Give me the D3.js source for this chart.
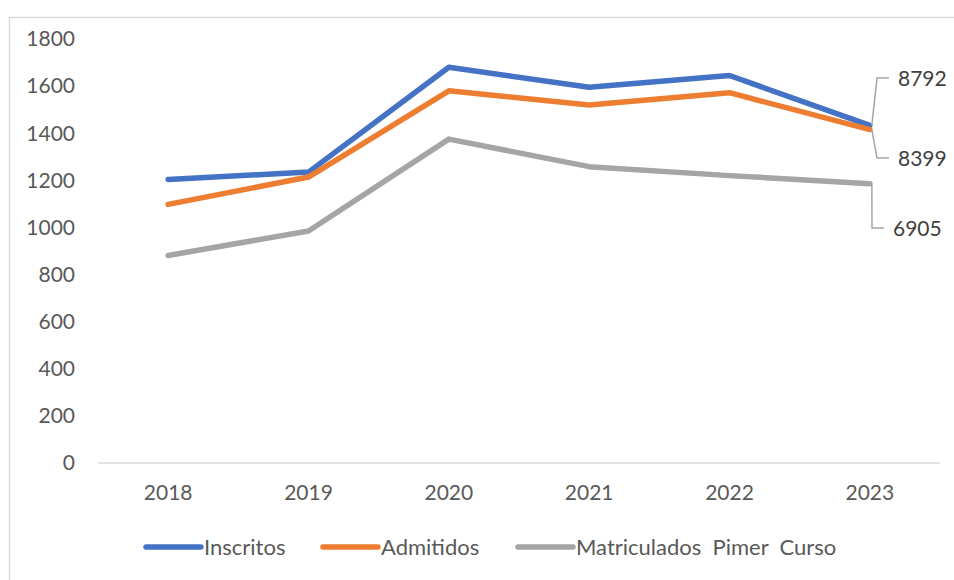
<!DOCTYPE html>
<html>
<head>
<meta charset="utf-8">
<script src="https://d3js.org/d3.v7.min.js"></script>
<style>
  body { margin: 0; background: #fff; }
  text { font-family: Lato, "Open Sans", sans-serif; fill: #595959; }
</style>
</head>
<body>
<svg id="main" width="954" height="580"></svg>
<script>
// data
var years = ["2018", "2019", "2020", "2021", "2022", "2023"];
var inscritos = [1204, 1235, 1680, 1595, 1645, 1433];
var admitidos = [1098, 1214, 1580, 1520, 1572, 1415];
var matriculados = [881, 985, 1375, 1258, 1220, 1186];
var seriesNames = ["Inscritos", "Admitidos", "Matriculados  Pimer  Curso"];
var seriesColors = ["#4472C4", "#ED7D31", "#A5A5A5"];
var yTicks = [0, 200, 400, 600, 800, 1000, 1200, 1400, 1600, 1800];

var series = [inscritos, admitidos, matriculados];

var svg = d3.select("#main");

// chart frame (only left and top edges are visible)
svg.append("path")
  .attr("d", "M9.5,580 V17.5 H954")
  .attr("fill", "none")
  .attr("stroke", "#d9d9d9")
  .attr("stroke-width", 1.5);

var x = d3.scalePoint().domain(years).range([98, 940]).padding(0.5);
var y = d3.scaleLinear().domain([0, 1800]).range([463, 39]);

// y labels
svg.selectAll(".ylab").data(yTicks).enter().append("text")
  .attr("class", "ylab")
  .attr("x", 75)
  .attr("y", function(d) { return y(d); })
  .attr("dy", "0.35em")
  .attr("text-anchor", "end")
  .style("font-size", "21px")
  .text(function(d) { return d; });

// x axis line
svg.append("line")
  .attr("x1", 98).attr("x2", 940)
  .attr("y1", y(0)).attr("y2", y(0))
  .attr("stroke", "#d9d9d9")
  .attr("stroke-width", 1.5);

svg.selectAll(".xlab").data(years).enter().append("text")
  .attr("class", "xlab")
  .attr("x", function(d) { return x(d); })
  .attr("y", 493)
  .attr("dy", "0.35em")
  .attr("text-anchor", "middle")
  .style("font-size", "21px")
  .text(function(d) { return d; });

var line = d3.line()
  .x(function(d, i) { return x(years[i]); })
  .y(function(d) { return y(d); });

series.forEach(function(s, k) {
  svg.append("path")
    .datum(s)
    .attr("d", line)
    .attr("fill", "none")
    .attr("stroke", seriesColors[k])
    .attr("stroke-width", 5.5)
    .attr("stroke-linejoin", "round")
    .attr("stroke-linecap", "round");
});

// total labels with leader lines at the last point
var last = years[years.length - 1];
var px = x(last);
var labelY = [78, 158, 228];
var bendX = [877, 877, 872];
var endX = [889, 889, 884];
series.forEach(function(s, k) {
  var py = y(s[s.length - 1]);
  svg.append("path")
    .attr("d", "M" + (px + 2) + "," + py + " L" + bendX[k] + "," + labelY[k] + " H" + endX[k])
    .attr("fill", "none")
    .attr("stroke", "#a6a6a6")
    .attr("stroke-width", 1.5);
  svg.append("text")
    .attr("x", endX[k] + 9)
    .attr("y", labelY[k] + 1)
    .attr("dy", "0.35em")
    .style("font-size", "21px")
    .style("fill", "#404040")
    .text(d3.sum(s));
});

// legend
var legX = [146, 323, 518];
seriesNames.forEach(function(name, k) {
  svg.append("line")
    .attr("x1", legX[k]).attr("x2", legX[k] + 55)
    .attr("y1", 547).attr("y2", 547)
    .attr("stroke", seriesColors[k])
    .attr("stroke-width", 5.5)
    .attr("stroke-linecap", "round");
  svg.append("text")
    .attr("x", legX[k] + 58)
    .attr("y", 547)
    .attr("dy", "0.35em")
    .style("font-size", "22px")
    .attr("xml:space", "preserve")
    .text(name);
});
</script>
</body>
</html>
